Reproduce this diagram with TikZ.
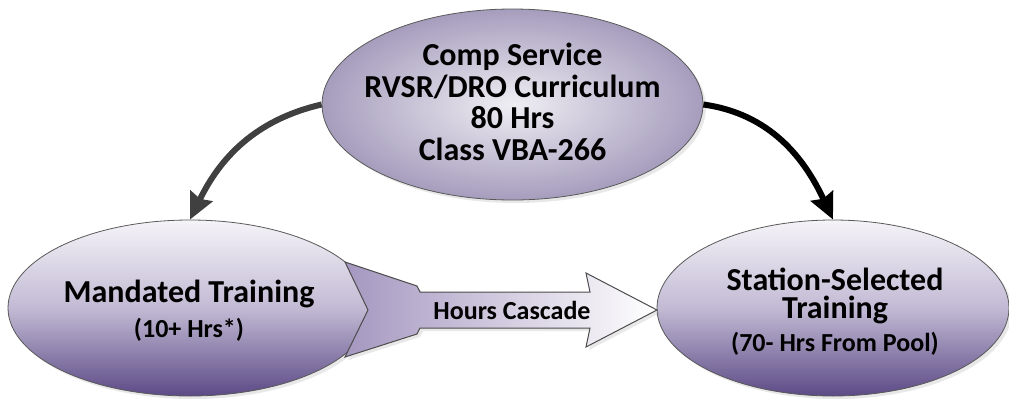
\documentclass[tikz,border=0pt]{standalone}
\usepackage{fontspec}
\setmainfont{Carlito}
\usetikzlibrary{arrows.meta,shapes.geometric,shadows,positioning}
\definecolor{ovaltop}{HTML}{F5F4F8}
\definecolor{ovalmid}{HTML}{C2BAD4}
\definecolor{ovalbot}{HTML}{5C4A86}
\definecolor{compin}{HTML}{EFEEF3}
\definecolor{compout}{HTML}{A69DBD}
\definecolor{cascleft}{HTML}{A597C0}
\definecolor{arrowgray}{HTML}{404040}

\begin{document}
\begin{tikzpicture}[x=0.5pt,y=-0.5pt,
  oval/.style={ellipse,draw=black!65,line width=0.4pt,inner sep=0pt,
    drop shadow={shadow xshift=1.5pt,shadow yshift=-1.5pt,opacity=0.18}},
  compoval/.style={oval,inner color=compin,outer color=compout,
    minimum width=190.5pt,minimum height=95.5pt},
  lowoval/.style={oval,top color=ovaltop,bottom color=ovalbot,middle color=ovalmid,
    minimum height=88pt},
  flow/.style={-{Stealth[length=13pt,width=12pt,inset=1.5pt]},line width=3pt},
  toptext/.style={font=\bfseries\fontsize{16}{15.85}\selectfont,align=center,
    inner sep=0pt,anchor=north},
  bigtext/.style={font=\bfseries\fontsize{16}{14}\selectfont,align=center,inner sep=0pt},
  subtext/.style={font=\bfseries\fontsize{13}{13}\selectfont,inner sep=0pt,anchor=base},
  cascade/.style={draw=black!70,line width=0.5pt,left color=cascleft,right color=white,
    drop shadow={shadow xshift=1.5pt,shadow yshift=-1.5pt,opacity=0.18}}]
  \useasboundingbox (0,0) rectangle (1009,398);
  % the three ovals
  \node[compoval] (comp) at (512.5,104.5) {};
  \node[lowoval,minimum width=182pt] (mand) at (190,308) {};
  \node[lowoval,minimum width=176pt] (stat) at (833,308) {};
  % curved arrows from the curriculum
  \draw[flow,arrowgray] (comp.west) to[out=193,in=64] (mand.north);
  \draw[flow,black] (comp.east) to[out=-8,in=115] (stat.north);
  % block arrow between the lower ovals
  \path[cascade] (345,262) -- (417,286) -- (420,292) -- (590,292) -- (586,273)
    -- (657,310) -- (586,347) -- (590,328) -- (420,328) -- (417,334)
    -- (345,357) -- (368,310) -- cycle;
  \node[font=\bfseries\fontsize{13}{13}\selectfont,inner sep=0pt] (casc) at (512,310) {Hours Cascade};
  % texts
  \node[toptext] (comptext) at (512.5,42.5)
    {Comp Service\\RVSR/DRO Curriculum\\80 Hrs\\Class VBA-266};
  \node[bigtext,anchor=base] (mandtext) at (189,302) {Mandated Training};
  \node[subtext] (mandsub) at (189,337) {(10+ Hrs*)};
  \node[bigtext,anchor=north] (stattext) at (835,268) {Station-Selected\\Training};
  \node[subtext] (statsub) at (835,351) {(70- Hrs From Pool)};
\end{tikzpicture}
\end{document}
